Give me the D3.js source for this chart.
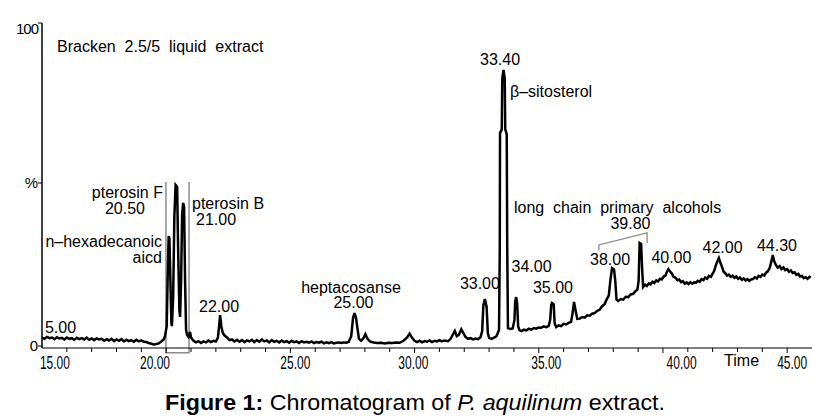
<!DOCTYPE html>
<html lang="en">
<head>
  <meta charset="UTF-8">
  <title>Chromatogram of P. aquilinum extract</title>
  <script src="https://cdn.jsdelivr.net/npm/d3@7/dist/d3.min.js"></script>
  <style>
    body { margin: 0; background: #fff; }
    text { font-family: "Liberation Sans", Arial, sans-serif; fill: #000; }
  </style>
</head>
<body>
  <script>
    var w = 829
    var h = 419

    // [retention time (min), relative abundance (%)]
    var trace = [
      [15.0, 2.6], [15.1, 2.2], [15.2, 2.8], [15.3, 2.4], [15.4, 2.6], [15.5, 2.1], [15.6, 2.7], [15.7, 2.3],
      [15.8, 2.5], [15.9, 2.0], [16.0, 2.6], [16.1, 2.2], [16.2, 2.4], [16.3, 1.9], [16.4, 2.5], [16.5, 2.1],
      [16.6, 2.4], [16.7, 2.0], [16.8, 2.6], [16.9, 1.9], [17.0, 2.3], [17.1, 1.8], [17.2, 2.3], [17.3, 2.0],
      [17.4, 2.2], [17.5, 1.6], [17.6, 2.1], [17.7, 1.7], [17.8, 2.2], [17.9, 1.5], [18.0, 2.0], [18.1, 1.6],
      [18.2, 2.1], [18.3, 1.4], [18.4, 1.9], [18.5, 1.5], [18.6, 1.8], [18.7, 1.3], [18.8, 1.9], [18.9, 1.4],
      [19.0, 1.7], [19.1, 1.3], [19.2, 1.2], [19.3, 0.9], [19.4, 0.7], [19.5, 0.5], [19.6, 0.6], [19.7, 0.8],
      [19.8, 1.4], [19.9, 2.0], [19.95, 3.0],
      // n-hexadecanoic acid, pterosin F, pterosin B
      [20.02, 6.0], [20.07, 25.0], [20.10, 33.7], [20.13, 33.0], [20.17, 20.0], [20.21, 7.0], [20.23, 6.1],
      [20.28, 15.0], [20.33, 40.0], [20.38, 49.4], [20.44, 48.8], [20.48, 30.0], [20.53, 11.0], [20.56, 8.9],
      [20.60, 20.0], [20.64, 40.0], [20.68, 43.9], [20.72, 42.8], [20.76, 20.0], [20.80, 5.0], [20.84, 3.4],
      [20.90, 2.8], [20.96, 4.3], [21.00, 2.6],
      [21.1, 1.6], [21.2, 1.1], [21.3, 1.5], [21.4, 0.9], [21.5, 1.4], [21.6, 1.1], [21.7, 1.7], [21.8, 1.2],
      [21.9, 1.6], [22.0, 1.4], [22.08, 2.5], [22.13, 6.0], [22.17, 9.5], [22.22, 6.0], [22.28, 4.0],
      [22.35, 3.2], [22.45, 2.6], [22.55, 1.8], [22.65, 2.0], [22.75, 1.4], [22.85, 1.9], [22.95, 1.3],
      [23.05, 1.8], [23.15, 1.2], [23.25, 1.7], [23.35, 1.4], [23.45, 1.9], [23.55, 1.2], [23.65, 1.8],
      [23.75, 1.3], [23.85, 2.0], [23.95, 1.4], [24.05, 1.7], [24.15, 1.1], [24.25, 1.8], [24.35, 1.3],
      [24.45, 1.6], [24.55, 1.1], [24.65, 1.7], [24.75, 1.2], [24.85, 1.5], [24.95, 1.0], [25.05, 1.6],
      [25.15, 1.2], [25.25, 1.4], [25.35, 0.9], [25.45, 1.5], [25.55, 1.1], [25.65, 1.3], [25.75, 1.0],
      [25.85, 1.4], [25.95, 0.9], [26.05, 1.2], [26.15, 1.0], [26.25, 1.3], [26.35, 0.8], [26.45, 1.1],
      [26.55, 0.9], [26.65, 1.2], [26.75, 0.8], [26.85, 1.0], [26.95, 1.1], [27.05, 0.9], [27.15, 1.1],
      [27.25, 1.0], [27.35, 1.3],
      // heptacosane
      [27.45, 3.0], [27.52, 8.5], [27.58, 10.1], [27.64, 8.8], [27.70, 5.5], [27.76, 2.2], [27.85, 1.6],
      [27.95, 2.5], [28.02, 3.6], [28.10, 2.3], [28.20, 1.4], [28.35, 1.1], [28.50, 0.9], [28.65, 1.0],
      [28.80, 0.8], [28.95, 1.0], [29.10, 0.9], [29.25, 1.1], [29.40, 1.0], [29.55, 1.6], [29.70, 2.6],
      [29.80, 3.8], [29.90, 2.5], [30.00, 1.6], [30.10, 1.2], [30.20, 1.6], [30.30, 1.1], [30.40, 1.5],
      [30.50, 1.3], [30.60, 1.7], [30.70, 1.2], [30.80, 1.6], [30.90, 1.4], [31.00, 1.8], [31.10, 1.4],
      [31.20, 1.7], [31.35, 1.5], [31.45, 2.2], [31.55, 3.6], [31.62, 4.6], [31.70, 3.0], [31.78, 3.4],
      [31.88, 5.1], [31.96, 4.0], [32.05, 2.8], [32.15, 2.2], [32.25, 2.4], [32.35, 2.0], [32.45, 2.3],
      [32.55, 2.1], [32.65, 2.6],
      // 33.00 and beta-sitosterol
      [32.72, 4.5], [32.77, 12.5], [32.83, 14.4], [32.90, 12.0], [32.95, 4.0], [33.00, 2.5], [33.10, 2.2],
      [33.20, 2.6], [33.30, 3.0], [33.40, 5.0], [33.43, 30.0], [33.44, 65.3], [33.51, 66.5], [33.53, 82.0],
      [33.58, 84.7], [33.63, 82.0], [33.65, 66.5], [33.71, 65.0], [33.73, 30.0], [33.76, 5.5], [33.85, 5.2],
      [33.95, 5.4], [34.02, 8.0], [34.05, 13.5], [34.09, 15.0], [34.13, 13.0], [34.17, 6.0], [34.22, 4.9],
      [34.30, 4.6], [34.40, 5.0], [34.50, 4.8], [34.60, 5.3], [34.70, 5.0], [34.80, 5.5], [34.90, 5.3],
      [35.00, 5.7], [35.10, 5.6], [35.20, 6.0], [35.30, 5.8], [35.40, 6.2], [35.46, 8.0], [35.50, 12.5],
      [35.53, 13.2], [35.60, 12.8], [35.64, 7.0], [35.70, 5.8], [35.80, 6.3], [35.90, 6.1], [36.00, 6.8],
      [36.10, 6.6], [36.20, 7.1], [36.30, 7.4], [36.36, 10.0], [36.42, 13.5], [36.48, 11.0], [36.55, 8.3],
      [36.65, 8.4], [36.75, 8.9], [36.85, 8.7], [36.95, 9.4], [37.05, 9.3], [37.15, 9.9], [37.25, 10.1],
      [37.35, 10.8], [37.45, 11.1], [37.55, 12.2], [37.65, 12.8], [37.72, 14.1], [37.82, 15.5],
      // long chain primary alcohols
      [37.88, 20.0], [37.95, 23.9], [38.03, 23.5], [38.08, 20.0], [38.13, 14.2], [38.20, 13.8], [38.30, 14.4],
      [38.40, 14.2], [38.50, 15.1], [38.60, 15.0], [38.70, 15.8], [38.80, 16.0], [38.90, 16.9], [38.97, 17.3],
      [39.02, 20.0], [39.06, 31.6], [39.12, 31.3], [39.16, 24.0], [39.20, 18.1], [39.28, 18.8], [39.35, 18.4],
      [39.43, 19.2], [39.50, 18.9], [39.58, 19.7], [39.65, 19.3], [39.73, 20.1], [39.80, 19.8], [39.88, 20.6],
      [39.95, 20.4], [40.03, 21.3], [40.10, 21.6], [40.16, 22.8], [40.22, 23.6], [40.28, 22.9], [40.35, 22.3],
      [40.43, 21.2], [40.50, 21.0], [40.58, 20.2], [40.65, 20.4], [40.73, 19.6], [40.80, 19.9], [40.88, 19.1],
      [40.95, 19.5], [41.03, 19.0], [41.10, 19.6], [41.18, 19.1], [41.25, 19.5], [41.33, 19.4], [41.40, 20.0],
      [41.48, 19.7], [41.55, 20.5], [41.63, 20.2], [41.70, 21.0], [41.78, 20.6], [41.85, 21.5], [41.93, 21.2],
      [42.00, 22.2], [42.06, 23.0], [42.12, 24.6], [42.18, 25.8], [42.25, 27.0], [42.31, 25.6], [42.38, 24.2],
      [42.44, 22.8], [42.50, 22.4], [42.58, 21.6], [42.65, 21.9], [42.73, 21.2], [42.80, 21.6], [42.88, 20.9],
      [42.95, 21.3], [43.03, 20.6], [43.10, 21.0], [43.18, 20.3], [43.25, 20.7], [43.33, 20.1], [43.40, 20.5],
      [43.48, 20.0], [43.55, 20.4], [43.63, 20.6], [43.70, 21.1], [43.78, 20.7], [43.85, 21.5], [43.93, 21.2],
      [44.00, 21.9], [44.08, 21.6], [44.15, 22.5], [44.22, 22.9], [44.30, 24.0], [44.36, 25.8], [44.42, 27.9],
      [44.48, 26.0], [44.55, 24.8], [44.62, 24.0], [44.70, 24.5], [44.77, 23.6], [44.85, 24.1], [44.92, 23.3],
      [45.00, 23.6], [45.07, 22.8], [45.15, 23.2], [45.22, 22.4], [45.30, 22.6], [45.37, 21.8], [45.45, 22.1],
      [45.52, 21.3], [45.60, 21.5], [45.67, 20.8], [45.75, 21.1], [45.82, 20.6], [45.90, 21.2], [45.95, 21.0]
    ]

    // peak annotations: text, time, abundance of the baseline, anchor
    var labelText = ['5.00', 'pterosin F', '20.50', 'n\u2013hexadecanoic', 'aicd', 'pterosin B', '21.00', '22.00',
      'heptacosanse', '25.00', '33.00', '33.40', '\u03b2\u2013sitosterol', 'long  chain  primary  alcohols',
      '34.00', '35.00', '38.00', '39.80', '40.00', '42.00', '44.30']
    var labelTime = [15.12, 19.87, 18.34, 19.83, 19.83, 21.04, 21.20, 22.13,
      27.44, 27.54, 32.63, 33.44, 33.84, 34.00,
      34.71, 35.57, 37.87, 38.69, 40.34, 42.40, 44.59]
    var labelValue = [4.0, 45.5, 40.5, 30.4, 25.5, 42.0, 37.1, 10.4,
      16.4, 11.6, 17.6, 86.2, 76.4, 40.8,
      22.7, 16.3, 24.8, 35.9, 25.5, 28.5, 29.1]
    var labelAnchor = ['start', 'end', 'middle', 'end', 'end', 'start', 'start', 'middle',
      'middle', 'middle', 'middle', 'middle', 'start', 'start',
      'middle', 'middle', 'middle', 'middle', 'middle', 'middle', 'middle']

    // grey brackets: pterosin group and long chain alcohols
    var boxTime = [19.99, 20.92]
    var boxValue = [50.3, -2.1]
    var alcTime = [37.42, 37.42, 39.36, 39.36]
    var alcValue = [29.4, 31.0, 34.7, 31.6]

    // axis labels as printed
    var xTickText = ['15.00', '20.00', '25.00', '30.00', '35.00', '40.00', '45.00']
    var xTickAt = [15.52, 19.55, 25.2, 29.95, 35.3, 40.75, 45.2]
    var yTickText = ['100', '%', '0']
    var yTickValue = [100, 50, 0]

    var x = d3.scaleLinear().domain([15, 46]).range([42, 812])
    var y = d3.scaleLinear().domain([0, 100]).range([346, 20])

    var svg = d3.select('body').append('svg').attr('width', w).attr('height', h)
    svg.append('rect').attr('width', w).attr('height', h).attr('fill', '#fff')

    // brackets first so the trace sits on top
    svg.append('path')
      .attr('d', d3.line()([[x(boxTime[0]), y(boxValue[0])], [x(boxTime[0]), y(boxValue[1])],
        [x(boxTime[1]), y(boxValue[1])], [x(boxTime[1]), y(boxValue[0])]]))
      .attr('fill', 'none').attr('stroke', '#8c8c8c').attr('stroke-width', 1.5)
    svg.append('path')
      .attr('d', d3.line().x(function (d) { return x(d) }).y(function (d, i) { return y(alcValue[i]) })(alcTime))
      .attr('fill', 'none').attr('stroke', '#8c8c8c').attr('stroke-width', 1.3)

    // axes
    var xAxis = svg.append('g').attr('transform', 'translate(0,' + (y(0) + 2) + ')')
    xAxis.append('line').attr('x1', x(15)).attr('x2', x(46)).attr('stroke', '#000').attr('stroke-width', 1.2)
    xAxis.selectAll('line.tick').data(d3.range(16, 46)).enter().append('line').attr('class', 'tick')
      .attr('x1', function (d) { return x(d) }).attr('x2', function (d) { return x(d) })
      .attr('y1', 0).attr('y2', function (d) { return d % 5 === 0 ? 5 : 4 })
      .attr('stroke', '#000').attr('stroke-width', 1)
    xAxis.selectAll('text').data(xTickText).enter().append('text')
      .text(function (d) { return d })
      .attr('x', function (d, i) { return x(xTickAt[i]) })
      .attr('y', 21)
      .attr('text-anchor', 'middle')
      .attr('font-size', '18px')
      .attr('textLength', 30).attr('lengthAdjust', 'spacingAndGlyphs')
    xAxis.append('text').text('Time').attr('x', x(42.46)).attr('y', 18).attr('font-size', '16px')

    svg.append('line').attr('x1', x(15)).attr('x2', x(15)).attr('y1', y(100) + 3).attr('y2', y(0) + 2)
      .attr('stroke', '#000').attr('stroke-width', 1.5)
    svg.selectAll('line.ytick').data(yTickValue).enter().append('line').attr('class', 'ytick')
      .attr('x1', x(15) - 4).attr('x2', x(15))
      .attr('y1', function (d) { return y(d) + (d === 100 ? 3 : 0) })
      .attr('y2', function (d) { return y(d) + (d === 100 ? 3 : 0) })
      .attr('stroke', '#000')
    svg.selectAll('text.ylab').data(yTickText).enter().append('text').attr('class', 'ylab')
      .text(function (d) { return d })
      .attr('x', x(15) - 4)
      .attr('y', function (d, i) { return y(yTickValue[i]) + (i === 0 ? 14 : 5) })
      .attr('text-anchor', 'end')
      .attr('font-size', '15px')
      .attr('letter-spacing', function (d, i) { return i === 0 ? '-1px' : '0px' })

    // chromatogram trace
    var line = d3.line().x(function (d) { return x(d[0]) }).y(function (d) { return y(d[1]) })
    svg.append('path').attr('d', line(trace))
      .attr('fill', 'none').attr('stroke', '#000').attr('stroke-width', 2.5)
      .attr('stroke-linejoin', 'miter').attr('stroke-miterlimit', 3)

    // title inside the plot
    svg.append('text').text('Bracken  2.5/5  liquid  extract')
      .attr('x', 57).attr('y', 52).attr('font-size', '16px').style('white-space', 'pre')

    // peak labels
    svg.selectAll('text.peak').data(labelText).enter().append('text').attr('class', 'peak')
      .text(function (d) { return d })
      .attr('x', function (d, i) { return x(labelTime[i]) })
      .attr('y', function (d, i) { return y(labelValue[i]) })
      .attr('text-anchor', function (d, i) { return labelAnchor[i] })
      .attr('font-size', '16px')
      .style('white-space', 'pre')

    // caption
    var cap = svg.append('text').attr('x', 415).attr('y', 410).attr('text-anchor', 'middle')
      .attr('font-size', '22px')
      .attr('textLength', 500).attr('lengthAdjust', 'spacingAndGlyphs')
    cap.append('tspan').attr('font-weight', 'bold').text('Figure 1:')
    cap.append('tspan').text(' Chromatogram of ')
    cap.append('tspan').attr('font-style', 'italic').text('P. aquilinum')
    cap.append('tspan').text(' extract.')
  </script>
</body>
</html>
